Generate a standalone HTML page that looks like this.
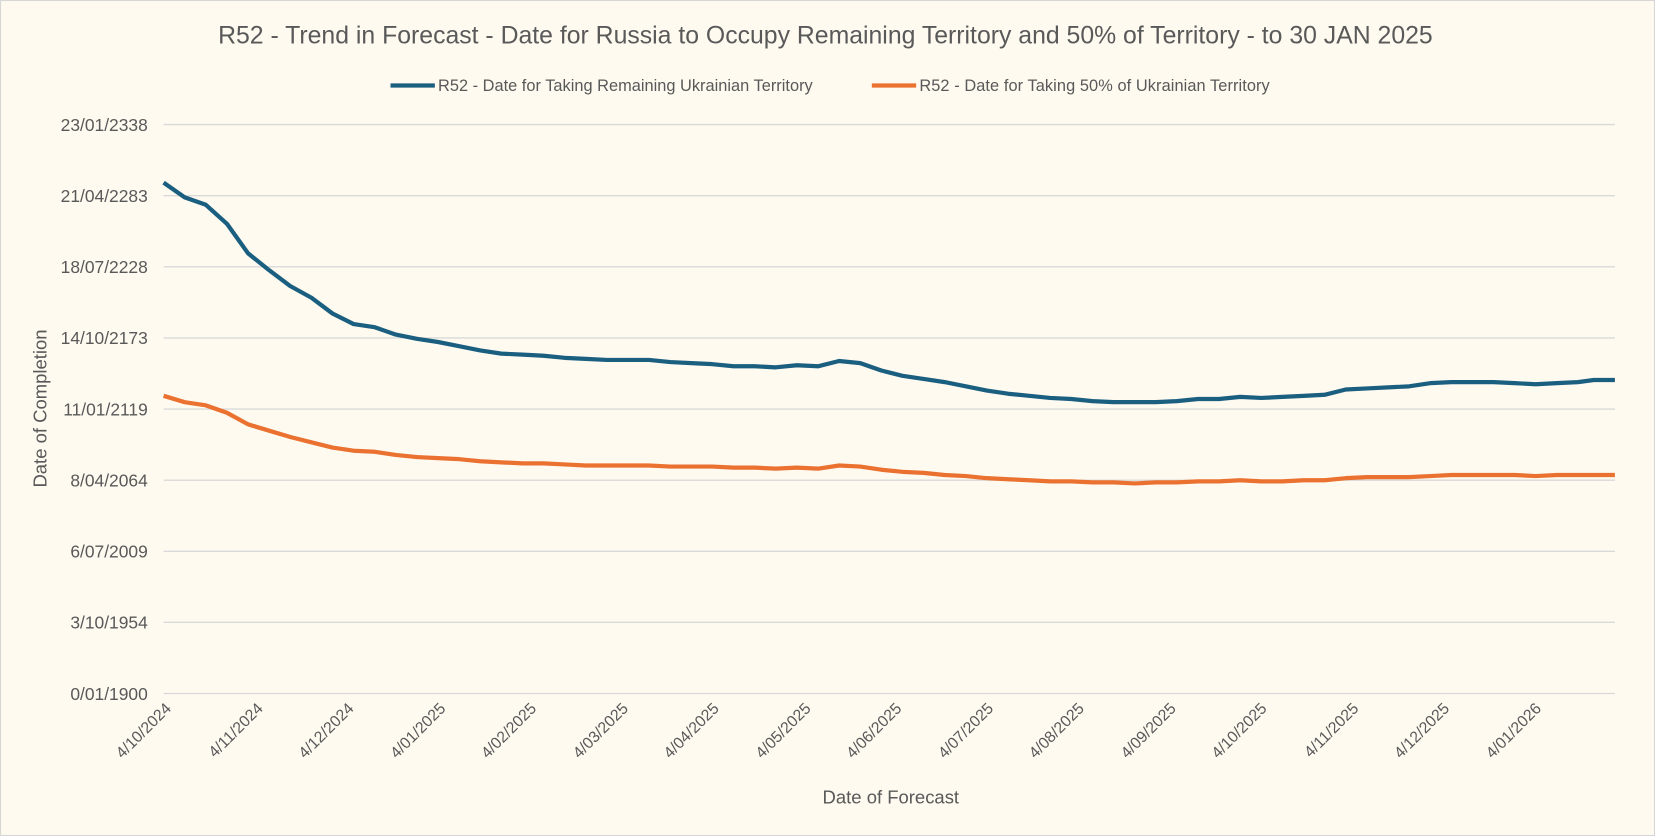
<!DOCTYPE html>
<html><head><meta charset="utf-8"><style>
html,body{margin:0;padding:0;background:#fefaf0;}
svg{display:block;font-family:"Liberation Sans",sans-serif;}
</style></head><body>
<svg width="1655" height="836" viewBox="0 0 1568 792" preserveAspectRatio="none">
<rect x="0.5" y="0.5" width="1567" height="791" fill="#fefaf0" stroke="#d6d6d6"/>
<text x="782" y="41" text-anchor="middle" font-size="23.5" fill="#595959">R52 - Trend in Forecast - Date for Russia to Occupy Remaining Territory and 50% of Territory - to 30 JAN 2025</text>
<line x1="370" y1="81" x2="412" y2="81" stroke="#1a5e80" stroke-width="4"/>
<text x="415" y="86" font-size="15.5" fill="#595959" textLength="355">R52 - Date for Taking Remaining Ukrainian Territory</text>
<line x1="826" y1="81" x2="868" y2="81" stroke="#ea7130" stroke-width="4"/>
<text x="871" y="86" font-size="15.5" fill="#595959" textLength="332">R52 - Date for Taking  50% of Ukrainian Territory</text>
<g stroke="#d9d9d9" stroke-width="1.3">
<line x1="155" x2="1530" y1="118" y2="118"/><line x1="155" x2="1530" y1="185.4" y2="185.4"/><line x1="155" x2="1530" y1="252.8" y2="252.8"/><line x1="155" x2="1530" y1="320.1" y2="320.1"/><line x1="155" x2="1530" y1="387.5" y2="387.5"/><line x1="155" x2="1530" y1="454.9" y2="454.9"/><line x1="155" x2="1530" y1="522.3" y2="522.3"/><line x1="155" x2="1530" y1="589.6" y2="589.6"/><line x1="155" x2="1530" y1="657" y2="657"/>
</g>
<g font-size="16.5" fill="#595959" text-anchor="end">
<text x="140" y="124">23/01/2338</text><text x="140" y="191.4">21/04/2283</text><text x="140" y="258.8">18/07/2228</text><text x="140" y="326.1">14/10/2173</text><text x="140" y="393.5">11/01/2119</text><text x="140" y="460.9">8/04/2064</text><text x="140" y="528.3">6/07/2009</text><text x="140" y="595.6">3/10/1954</text><text x="140" y="663">0/01/1900</text>
</g>
<text transform="translate(44,387) rotate(-90)" text-anchor="middle" font-size="17.5" fill="#595959">Date of Completion</text>
<text x="844" y="761" text-anchor="middle" font-size="17.5" fill="#595959">Date of Forecast</text>
<g font-size="15" fill="#595959" text-anchor="end">
<text transform="translate(163,672) rotate(-45)">4/10/2024</text>
<text transform="translate(250,672) rotate(-45)">4/11/2024</text>
<text transform="translate(336,672) rotate(-45)">4/12/2024</text>
<text transform="translate(423,672) rotate(-45)">4/01/2025</text>
<text transform="translate(509,672) rotate(-45)">4/02/2025</text>
<text transform="translate(596,672) rotate(-45)">4/03/2025</text>
<text transform="translate(682,672) rotate(-45)">4/04/2025</text>
<text transform="translate(769,672) rotate(-45)">4/05/2025</text>
<text transform="translate(855,672) rotate(-45)">4/06/2025</text>
<text transform="translate(942,672) rotate(-45)">4/07/2025</text>
<text transform="translate(1028,672) rotate(-45)">4/08/2025</text>
<text transform="translate(1115,672) rotate(-45)">4/09/2025</text>
<text transform="translate(1201,672) rotate(-45)">4/10/2025</text>
<text transform="translate(1288,672) rotate(-45)">4/11/2025</text>
<text transform="translate(1374,672) rotate(-45)">4/12/2025</text>
<text transform="translate(1461,672) rotate(-45)">4/01/2026</text>
</g>
<polyline fill="none" stroke="#1a5e80" stroke-width="4" stroke-linejoin="round" points="155,173 175,187 195,194 215,212 235,240 255,256 275,271 295,282 315,297 335,307 355,310 375,317 395,321 415,324 435,328 455,332 475,335 495,336 515,337 535,339 555,340 575,341 595,341 615,341 635,343 655,344 675,345 695,347 715,347 735,348 755,346 775,347 795,342 815,344 835,351 855,356 875,359 895,362 915,366 935,370 955,373 975,375 995,377 1015,378 1035,380 1055,381 1075,381 1095,381 1115,380 1135,378 1155,378 1175,376 1195,377 1215,376 1235,375 1255,374 1275,369 1295,368 1315,367 1335,366 1355,363 1375,362 1395,362 1415,362 1435,363 1455,364 1475,363 1495,362 1510,360 1530,360"/>
<polyline fill="none" stroke="#ea7130" stroke-width="4" stroke-linejoin="round" points="155,375 175,381 195,384 215,391 235,402 255,408 275,414 295,419 315,424 335,427 355,428 375,431 395,433 415,434 435,435 455,437 475,438 495,439 515,439 535,440 555,441 575,441 595,441 615,441 635,442 655,442 675,442 695,443 715,443 735,444 755,443 775,444 795,441 815,442 835,445 855,447 875,448 895,450 915,451 935,453 955,454 975,455 995,456 1015,456 1035,457 1055,457 1075,458 1095,457 1115,457 1135,456 1155,456 1175,455 1195,456 1215,456 1235,455 1255,455 1275,453 1295,452 1315,452 1335,452 1355,451 1375,450 1395,450 1415,450 1435,450 1455,451 1475,450 1495,450 1530,450"/>
</svg>
</body></html>
